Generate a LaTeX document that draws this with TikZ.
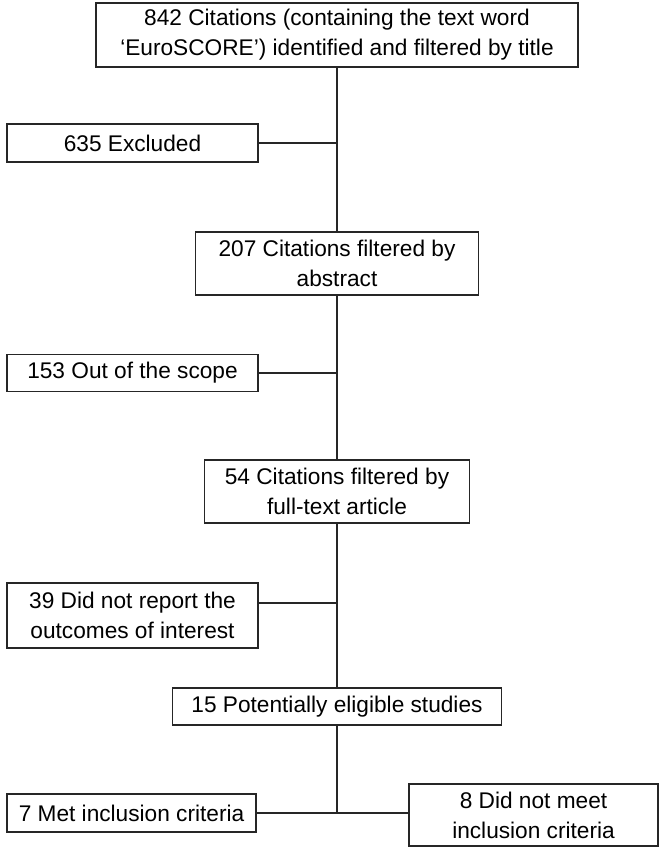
\documentclass[tikz,border=0pt]{standalone}
\usepackage{fontspec}
\setmainfont{Liberation Sans}
\begin{document}
\begin{tikzpicture}[x=0.75pt,y=-0.75pt,
  bx/.style n args={2}{draw=black!85, line width=1.2pt, fill=white, inner sep=0pt,
    minimum width=#1*0.75pt, minimum height=#2*0.75pt, align=center,
    font=\fontsize{17}{22.5}\selectfont},
  ln/.style={draw=black!85, line width=0.9pt}]
\useasboundingbox (0,0) rectangle (662,853);
\node[bx={482}{64}] (b1) at (337,35) {842 Citations (containing the text word\\‘EuroSCORE’) identified and filtered by title};
\node[bx={251}{38}] (b2) at (132.5,143) {635 Excluded};
\node[bx={283}{63}] (b3) at (337,263.5) {207 Citations filtered by\\abstract};
\node[bx={251}{37}] (b4) at (132.5,373) {153 Out of the scope};
\node[bx={265}{63}] (b5) at (337,491.5) {54 Citations filtered by\\full-text article};
\node[bx={251}{65}] (b6) at (132.5,615.5) {39 Did not report the\\outcomes of interest};
\node[bx={329}{37}] (b7) at (337,706.5) {15 Potentially eligible studies};
\node[bx={249}{38}] (b8) at (131.5,813) {7 Met inclusion criteria};
\node[bx={249}{62}] (b9) at (533.5,815) {8 Did not meet\\inclusion criteria};
\coordinate (b6c) at (258,603);
\coordinate (j) at (b8.east -| b7.south);
\draw[ln] (b1.south) -- (b3.north);
\draw[ln] (b3.south) -- (b5.north);
\draw[ln] (b5.south) -- (b7.north);
\draw[ln] (b7.south) -- (j);
\draw[ln] (b2.east) -- (b2.east -| b1.south);
\draw[ln] (b4.east) -- (b4.east -| b1.south);
\draw[ln] (b6c) -- (b6c -| b1.south);
\draw[ln] (b8.east) -- (b8.east -| b9.west);
\end{tikzpicture}
\end{document}
